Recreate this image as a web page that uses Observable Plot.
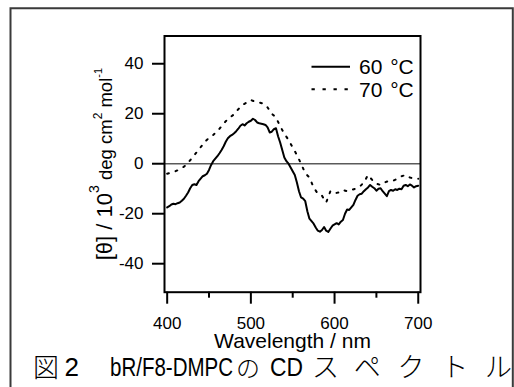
<!DOCTYPE html>
<html>
<head>
<meta charset="utf-8">
<script src="https://cdn.jsdelivr.net/npm/d3@7"></script>
<script src="https://cdn.jsdelivr.net/npm/@observablehq/plot@0.6"></script>
<style>
  html, body { margin: 0; padding: 0; background: #fff; }
  #wrap { position: relative; width: 514px; height: 387px; overflow: hidden; }
  #overlay { position: absolute; left: 0; top: 0; pointer-events: none; }
</style>
</head>
<body>
<div id="wrap"></div>
<script>
// ---- data ----
const wlStep60 = 2.5;
const theta60 = [
  -17.5, -17.0, -16.3, -16.0, -16.2, -15.8, -15.5, -14.8, -14.0, -12.8,
  -11.5, -9.8, -8.5, -8.2, -8.5, -7.0, -6.0, -5.0, -4.6, -4.0,
  -2.5, -0.5, 1.0, 2.0, 3.0, 4.2, 5.5, 7.0, 8.8, 10.2,
  11.0, 11.5, 12.2, 13.0, 14.0, 15.2, 15.8, 15.3, 16.2, 16.8,
  17.2, 18.0, 17.5, 16.5, 16.2, 16.0, 15.8, 15.5, 14.5, 12.5,
  12.8, 13.8, 14.2, 11.0, 8.5, 5.5, 2.5, 1.0, 0.0, -1.5,
  -3.0, -4.5, -7.5, -11.0, -13.5, -14.0, -15.0, -19.0, -22.0, -23.0,
  -24.0, -25.5, -26.8, -27.2, -26.5, -25.3, -26.8, -27.3, -26.0, -24.8,
  -24.3, -23.8, -24.3, -23.2, -22.5, -20.0, -18.3, -18.5, -17.5, -16.5,
  -14.5, -12.8, -12.2, -12.0, -11.0, -10.2, -9.5, -8.5, -9.2, -9.8,
  -10.8, -10.0, -9.8, -11.0, -12.0, -13.0, -11.0, -10.5, -10.8, -10.2,
  -10.5, -10.0, -10.2, -8.8, -8.5, -9.0, -8.3, -8.8, -9.5, -9.0,
  -8.8
];
const wl60 = theta60.map((_, i) => 400 + i * wlStep60);

const wlStep70 = 5;
const theta70 = [
  -4.0, -3.5, -3.0, -2.2, -1.2, 0.3, 2.5, 4.5, 6.6, 8.8,
  10.3, 11.5, 13.0, 15.0, 17.0, 18.5, 19.8, 21.8, 23.5, 24.5,
  25.5, 24.8, 24.5, 24.0, 22.5, 20.0, 18.5, 15.0, 12.0, 9.5,
  6.5, 3.5, 0.0, -3.8, -5.5, -9.5, -12.0, -12.8, -15.5, -11.0,
  -11.8, -11.5, -10.5, -11.0, -10.5, -10.0, -9.2, -7.5, -4.5, -6.5,
  -8.0, -8.5, -7.5, -6.8, -6.8, -6.0, -5.0, -4.5, -5.5, -6.0,
  -6.0
];
const wl70 = theta70.map((_, i) => 400 + i * wlStep70);

const xMajorTicks = [400, 500, 600, 700];
const xMinorTicks = [450, 550, 650];
const yTicks = [-40, -20, 0, 20, 40];
const seriesNames = ["60 °C", "70 °C"];
const xLabel = "Wavelength / nm";
const yLabelPlain = "[θ] / 10³ deg cm² mol⁻¹";
const captionParts = ["図", "2", "bR/F8-DMPC", "の", "CD", "スペクトル"];

const FONT = "'Liberation Sans', Arial, Helvetica, sans-serif";
const plainFormat = d => String(d);

const chart = Plot.plot({
  width: 514,
  height: 387,
  marginLeft: 164,
  marginRight: 94,
  marginTop: 35.5,
  marginBottom: 95.3,
  style: { fontFamily: FONT, background: "white", color: "black", overflow: "visible" },
  x: { domain: [396.8, 702.7] },
  y: { domain: [-51.4, 51.1] },
  marks: [
    Plot.ruleY([0], { stroke: "#5a5a5a", strokeWidth: 1.7 }),
    Plot.line(theta70, { x: wl70, y: theta70, stroke: "black", strokeWidth: 2, strokeDasharray: "1.8,7" }),
    Plot.line(theta60, { x: wl60, y: theta60, stroke: "black", strokeWidth: 2, strokeLinejoin: "round" }),
    Plot.axisX({ ticks: xMajorTicks, tickSize: 12, tickPadding: 13, strokeWidth: 2, fontSize: 17, tickFormat: plainFormat, label: null }),
    Plot.axisX({ ticks: xMinorTicks, tickSize: 6, strokeWidth: 2, tickFormat: () => "", label: null }),
    Plot.axisY({ ticks: yTicks, tickSize: 12, tickPadding: 9, strokeWidth: 2, fontSize: 17, tickFormat: plainFormat, label: null }),
    Plot.frame({ stroke: "black", strokeWidth: 2 }),
    Plot.text([xLabel], { frameAnchor: "bottom", dy: 49.5, lineAnchor: "middle", fontSize: 21, fill: "black" }),
    Plot.text([yLabelPlain], { frameAnchor: "left", dx: -52.5, rotate: -90, textAnchor: "middle", lineAnchor: "bottom", fontSize: 18, fill: "black" })
  ]
});

document.getElementById("wrap").appendChild(chart);

// rich y label (superscripts, mixed sizes)
const NS = "http://www.w3.org/2000/svg";
const ylText = Array.from(chart.querySelectorAll("text")).find(t => t.textContent === yLabelPlain);
if (ylText) {
  ylText.removeAttribute("y");
  ylText.removeAttribute("dy");
  ylText.setAttribute("text-anchor", "middle");
  ylText.textContent = "";
  const parts = [
    ["[θ] / 10", 22, 0],
    ["3", 14, -13],
    [" deg cm", 18.5, 13],
    ["2", 12, -10],
    [" mol", 18.5, 10],
    ["-1", 11, -10]
  ];
  for (const [t, fs, dy] of parts) {
    const ts = document.createElementNS(NS, "tspan");
    ts.setAttribute("font-size", fs);
    if (dy) ts.setAttribute("dy", dy);
    ts.textContent = t;
    ylText.appendChild(ts);
  }
}

// overlay: outer border, legend, caption
const ov = document.createElementNS(NS, "svg");
ov.setAttribute("id", "overlay");
ov.setAttribute("width", 514);
ov.setAttribute("height", 387);
ov.setAttribute("font-family", FONT);
document.getElementById("wrap").appendChild(ov);
function el(name, attrs, text) {
  const e = document.createElementNS(NS, name);
  for (const k in attrs) e.setAttribute(k, attrs[k]);
  if (text != null) e.textContent = text;
  ov.appendChild(e);
  return e;
}
// outer figure border
el("path", { d: "M10.5,400 V8.3 H512.8 V400", fill: "none", stroke: "#3a3a3a", "stroke-width": 2 });

// legend
el("line", { x1: 311.5, x2: 350, y1: 66.7, y2: 66.7, stroke: "black", "stroke-width": 2 });
el("line", { x1: 311.5, x2: 350, y1: 89.3, y2: 89.3, stroke: "black", "stroke-width": 2, "stroke-dasharray": "3.3,7.7" });
el("text", { x: 359, y: 73.5, "font-size": 21, "word-spacing": 2 }, seriesNames[0]);
el("text", { x: 359, y: 96.8, "font-size": 21, "word-spacing": 2 }, seriesNames[1]);

// caption
const CJK = "'Noto Sans CJK JP', 'Noto Sans CJK SC', sans-serif";
const capY = 376;
el("text", { x: 33, y: capY + 1, "font-size": 26, "font-family": CJK, "font-weight": 300 }, captionParts[0]);
el("text", { x: 64.5, y: capY, "font-size": 26 }, captionParts[1]);
el("text", { x: 110, y: capY, "font-size": 25, textLength: 123, lengthAdjust: "spacingAndGlyphs" }, captionParts[2]);
el("text", { x: 236, y: capY + 1, "font-size": 24, "font-family": CJK, "font-weight": 300 }, captionParts[3]);
el("text", { x: 270, y: capY, "font-size": 25, textLength: 33, lengthAdjust: "spacingAndGlyphs" }, captionParts[4]);
el("text", { x: 312, y: capY + 1, "font-size": 27, "font-family": CJK, "font-weight": 300, textLength: 200, lengthAdjust: "spacing" }, captionParts[5]);
</script>
</body>
</html>
